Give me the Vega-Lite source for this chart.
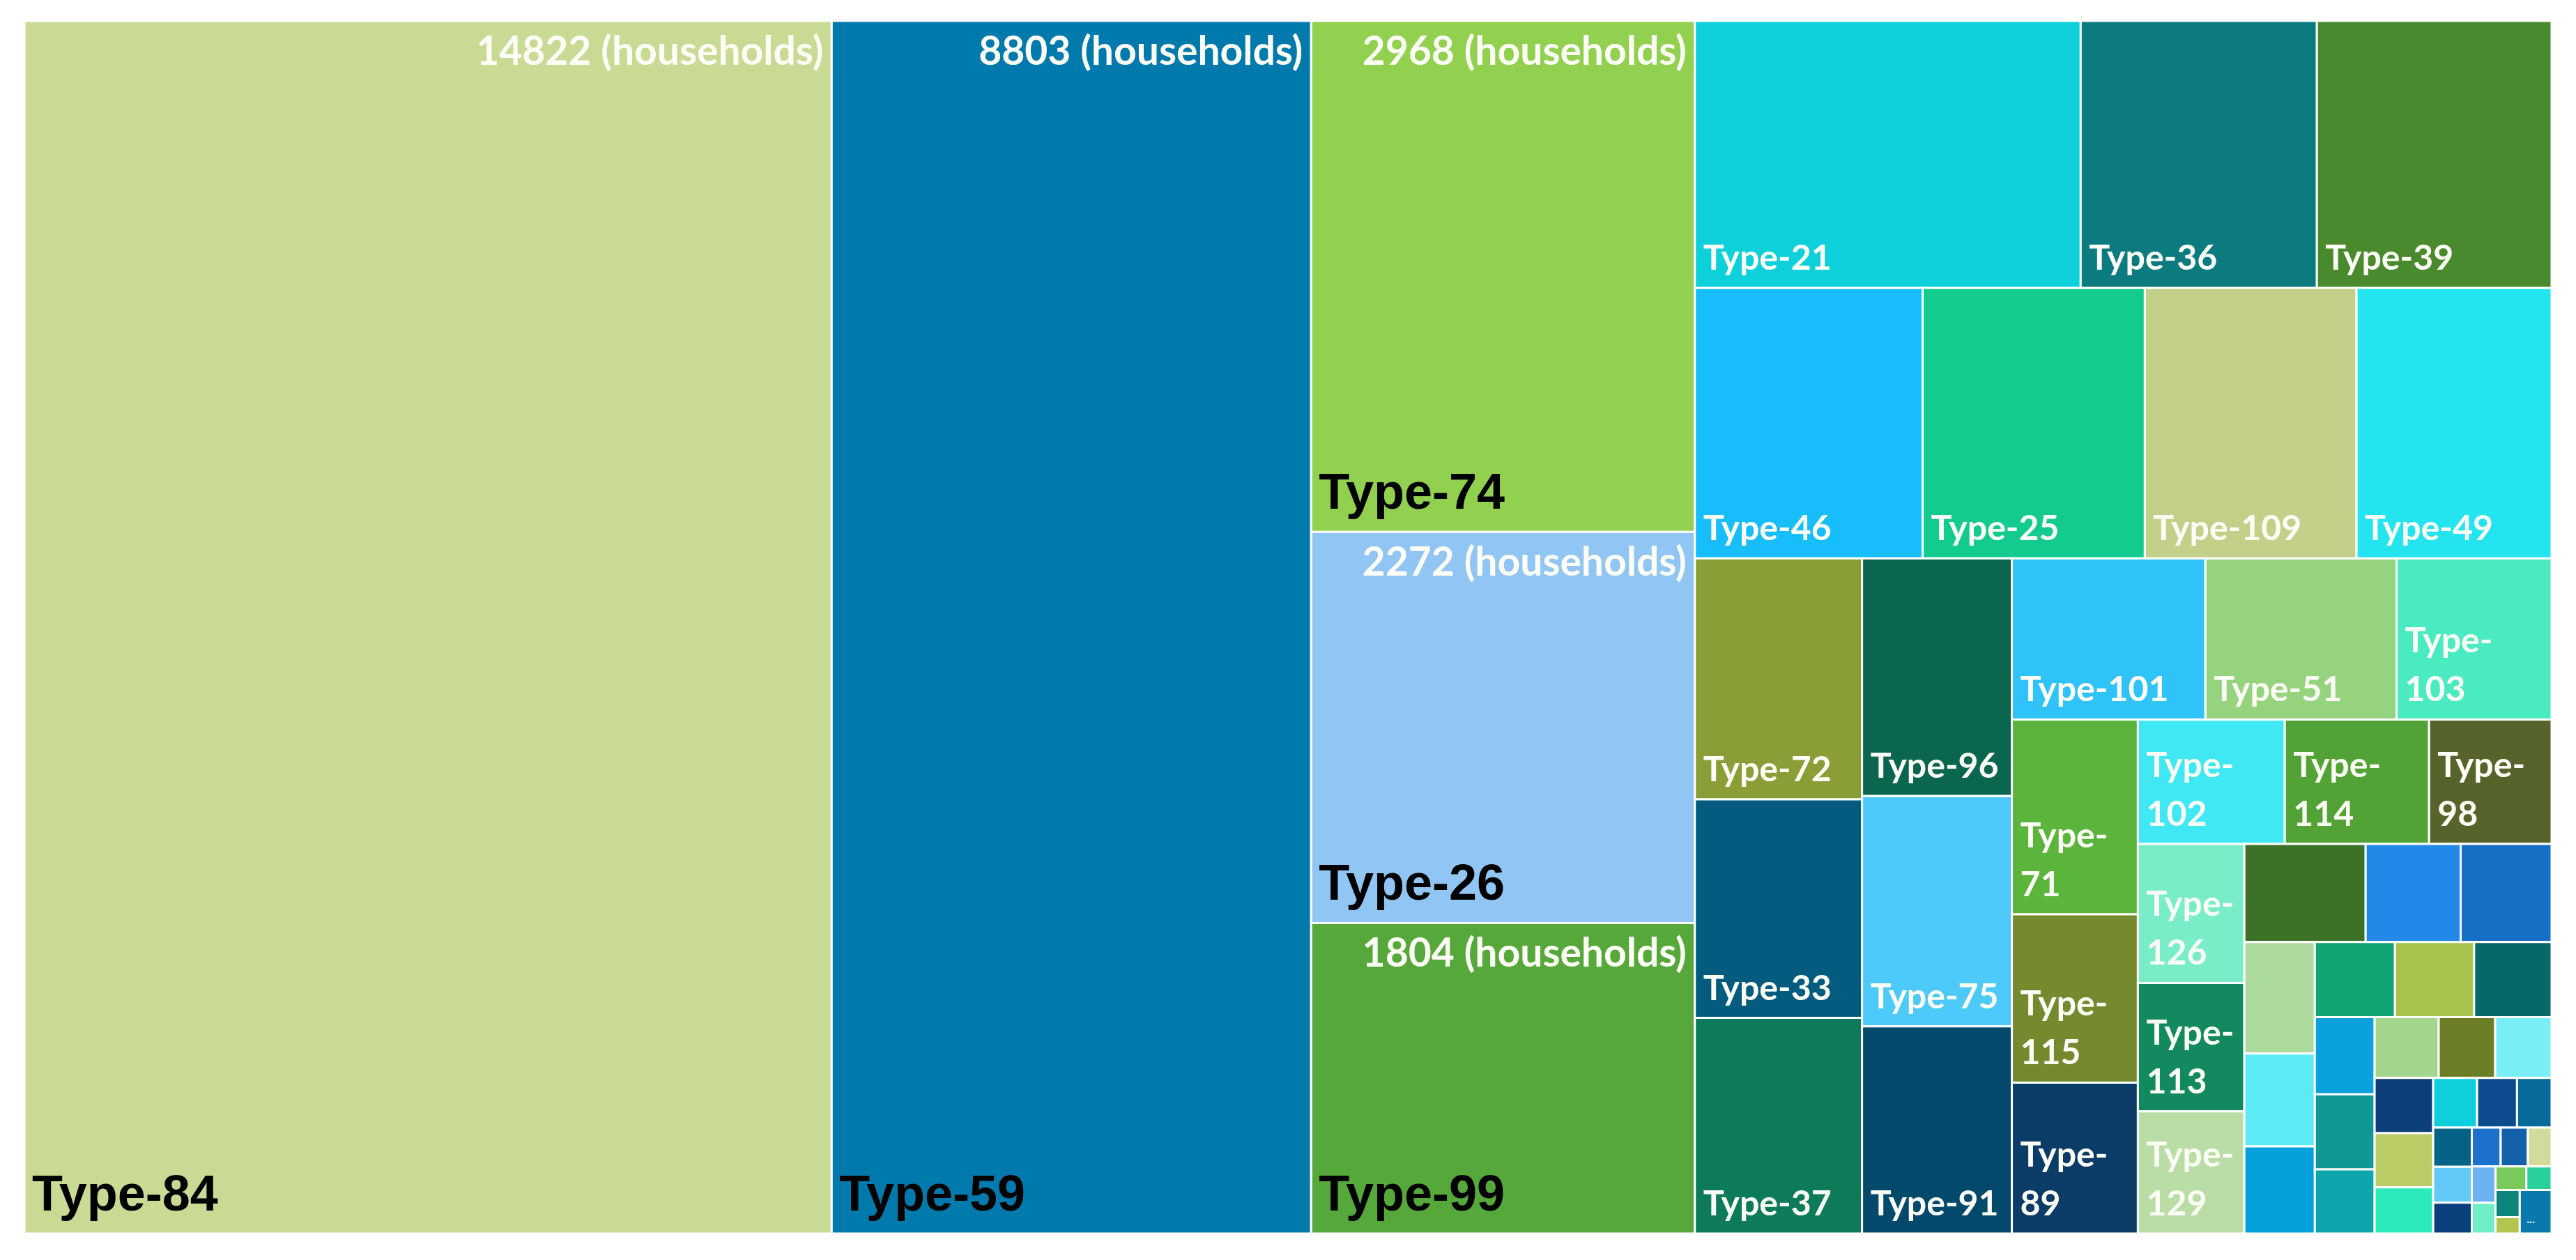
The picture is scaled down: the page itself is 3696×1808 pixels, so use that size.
{
  "$schema": "https://vega.github.io/schema/vega-lite/v6.json",
  "autosize": {"type": "fit", "contains": "padding"},
  "width": 3696,
  "height": 1808,
  "padding": {"left": 33, "top": 28, "right": 33, "bottom": 36},
  "background": "white",
  "config": {"view": {"stroke": null}},
  "data": {"values": [
    {"name": "Type-84", "value": 14822, "strip": 1, "orient": "C", "ord": 1},
    {"name": "Type-59", "value": 8803, "strip": 2, "orient": "C", "ord": 1},
    {"name": "Type-74", "value": 2968, "strip": 3, "orient": "C", "ord": 1},
    {"name": "Type-26", "value": 2272, "strip": 3, "orient": "C", "ord": 2},
    {"name": "Type-99", "value": 1804, "strip": 3, "orient": "C", "ord": 3},
    {"name": "Type-21", "value": 1560, "strip": 4, "orient": "R", "ord": 1},
    {"name": "Type-36", "value": 955, "strip": 4, "orient": "R", "ord": 2},
    {"name": "Type-39", "value": 949, "strip": 4, "orient": "R", "ord": 3},
    {"name": "Type-46", "value": 933, "strip": 5, "orient": "R", "ord": 1},
    {"name": "Type-25", "value": 910, "strip": 5, "orient": "R", "ord": 2},
    {"name": "Type-109", "value": 867, "strip": 5, "orient": "R", "ord": 3},
    {"name": "Type-49", "value": 799, "strip": 5, "orient": "R", "ord": 4},
    {"name": "Type-72", "value": 610, "strip": 6, "orient": "C", "ord": 1},
    {"name": "Type-33", "value": 553, "strip": 6, "orient": "C", "ord": 2},
    {"name": "Type-37", "value": 546, "strip": 6, "orient": "C", "ord": 3},
    {"name": "Type-96", "value": 539, "strip": 7, "orient": "C", "ord": 1},
    {"name": "Type-75", "value": 522, "strip": 7, "orient": "C", "ord": 2},
    {"name": "Type-91", "value": 470, "strip": 7, "orient": "C", "ord": 3},
    {"name": "Type-101", "value": 472, "strip": 8, "orient": "R", "ord": 1},
    {"name": "Type-51", "value": 466, "strip": 8, "orient": "R", "ord": 2},
    {"name": "Type-103", "value": 378, "strip": 8, "orient": "R", "ord": 3},
    {"name": "Type-71", "value": 372, "strip": 9, "orient": "C", "ord": 1},
    {"name": "Type-115", "value": 321, "strip": 9, "orient": "C", "ord": 2},
    {"name": "Type-89", "value": 288, "strip": 9, "orient": "C", "ord": 3},
    {"name": "Type-102", "value": 277, "strip": 10, "orient": "R", "ord": 1},
    {"name": "Type-114", "value": 272, "strip": 10, "orient": "R", "ord": 2},
    {"name": "Type-98", "value": 231, "strip": 10, "orient": "R", "ord": 3},
    {"name": "Type-126", "value": 224, "strip": 11, "orient": "C", "ord": 1},
    {"name": "Type-113", "value": 207, "strip": 11, "orient": "C", "ord": 2},
    {"name": "Type-129", "value": 197, "strip": 11, "orient": "C", "ord": 3},
    {"name": "Other-01", "value": 180, "strip": 12, "orient": "R", "ord": 1},
    {"name": "Other-02", "value": 141, "strip": 12, "orient": "R", "ord": 2},
    {"name": "Other-03", "value": 135, "strip": 12, "orient": "R", "ord": 3},
    {"name": "Other-04", "value": 119, "strip": 13, "orient": "C", "ord": 1},
    {"name": "Other-05", "value": 99, "strip": 13, "orient": "C", "ord": 2},
    {"name": "Other-06", "value": 93, "strip": 13, "orient": "C", "ord": 3},
    {"name": "Other-07", "value": 91, "strip": 14, "orient": "R", "ord": 1},
    {"name": "Other-08", "value": 90, "strip": 14, "orient": "R", "ord": 2},
    {"name": "Other-09", "value": 88, "strip": 14, "orient": "R", "ord": 3},
    {"name": "Other-10", "value": 70, "strip": 15, "orient": "C", "ord": 1},
    {"name": "Other-11", "value": 68, "strip": 15, "orient": "C", "ord": 2},
    {"name": "Other-12", "value": 58, "strip": 15, "orient": "C", "ord": 3},
    {"name": "Other-13", "value": 59, "strip": 16, "orient": "R", "ord": 1},
    {"name": "Other-14", "value": 52, "strip": 16, "orient": "R", "ord": 2},
    {"name": "Other-15", "value": 52, "strip": 16, "orient": "R", "ord": 3},
    {"name": "Other-16", "value": 49, "strip": 17, "orient": "C", "ord": 1},
    {"name": "Other-17", "value": 48, "strip": 17, "orient": "C", "ord": 2},
    {"name": "Other-18", "value": 41, "strip": 17, "orient": "C", "ord": 3},
    {"name": "Other-19", "value": 33, "strip": 18, "orient": "R", "ord": 1},
    {"name": "Other-20", "value": 30, "strip": 18, "orient": "R", "ord": 2},
    {"name": "Other-21", "value": 26, "strip": 18, "orient": "R", "ord": 3},
    {"name": "Other-22", "value": 23, "strip": 19, "orient": "C", "ord": 1},
    {"name": "Other-23", "value": 21, "strip": 19, "orient": "C", "ord": 2},
    {"name": "Other-24", "value": 18, "strip": 19, "orient": "C", "ord": 3},
    {"name": "Other-25", "value": 17, "strip": 20, "orient": "R", "ord": 1},
    {"name": "Other-26", "value": 16, "strip": 20, "orient": "R", "ord": 2},
    {"name": "Other-27", "value": 14, "strip": 20, "orient": "R", "ord": 3},
    {"name": "Other-28", "value": 13, "strip": 21, "orient": "C", "ord": 1},
    {"name": "Other-29", "value": 11, "strip": 21, "orient": "C", "ord": 2},
    {"name": "Other-30", "value": 11, "strip": 22, "orient": "R", "ord": 1},
    {"name": "Other-31", "value": 9, "strip": 22, "orient": "R", "ord": 2},
    {"name": "Other-32", "value": 10, "strip": 23, "orient": "C", "ord": 1},
    {"name": "Other-33", "value": 6, "strip": 23, "orient": "C", "ord": 2},
    {"name": "...", "value": 21, "strip": 24, "orient": "C", "ord": 1}
  ]},
  "transform": [
    {"joinaggregate": [{"op": "sum", "field": "value", "as": "S"}], "groupby": ["strip"]},
    {"joinaggregate": [{"op": "sum", "field": "value", "as": "T"}]},
    {"window": [{"op": "sum", "field": "value", "as": "cumThru"}], "sort": [{"field": "strip", "order": "ascending"}], "frame": [null, 0], "ignorePeers": false},
    {"calculate": "datum.T - datum.cumThru + datum.S", "as": "R"},
    {"calculate": "log(max(datum.R - datum.S, 0.000001) / datum.R)", "as": "lr"},
    {"calculate": "datum.orient === 'C' ? datum.lr * datum.value / datum.S : 0", "as": "lrC"},
    {"calculate": "datum.orient === 'R' ? datum.lr * datum.value / datum.S : 0", "as": "lrR"},
    {"window": [{"op": "sum", "field": "lrC", "as": "cumC"}, {"op": "sum", "field": "lrR", "as": "cumR"}], "sort": [{"field": "strip", "order": "ascending"}], "frame": [null, 0], "ignorePeers": false},
    {"calculate": "exp(datum.cumC - (datum.orient === 'C' ? datum.lr : 0))", "as": "Wr"},
    {"calculate": "exp(datum.cumR - (datum.orient === 'R' ? datum.lr : 0))", "as": "Hr"},
    {"window": [{"op": "sum", "field": "value", "as": "cumIn"}], "groupby": ["strip"], "sort": [{"field": "ord", "order": "ascending"}], "frame": [null, 0]},
    {"calculate": "(datum.cumIn - datum.value) / datum.S", "as": "f0"},
    {"calculate": "datum.cumIn / datum.S", "as": "f1"},
    {"calculate": "datum.S / datum.R", "as": "g"},
    {"calculate": "datum.orient === 'C' ? 1 - datum.Wr : 1 - datum.Wr + datum.Wr * datum.f0", "as": "x0"},
    {"calculate": "datum.orient === 'C' ? 1 - datum.Wr + datum.Wr * datum.g : 1 - datum.Wr + datum.Wr * datum.f1", "as": "x1"},
    {"calculate": "datum.orient === 'C' ? 1 - datum.Hr + datum.Hr * datum.f0 : 1 - datum.Hr", "as": "y0"},
    {"calculate": "datum.orient === 'C' ? 1 - datum.Hr + datum.Hr * datum.f1 : 1 - datum.Hr + datum.Hr * datum.g", "as": "y1"},
    {"calculate": "(datum.x1 - datum.x0) * 3630 < length(datum.name) * 26 + 24", "as": "wrap"},
    {"calculate": "datum.wrap ? 'Type-' : ''", "as": "lineA"},
    {"calculate": "datum.wrap ? replace(datum.name, 'Type-', '') : datum.name", "as": "lineB"},
    {"calculate": "datum.value + ' (households)'", "as": "vlabel"}
  ],
  "layer": [
    {
      "mark": {"type": "rect", "stroke": "white", "strokeWidth": 3},
      "encoding": {
        "x": {"field": "x0", "type": "quantitative", "scale": {"domain": [0, 1], "nice": false, "zero": false}, "axis": null},
        "x2": {"field": "x1"},
        "y": {"field": "y0", "type": "quantitative", "scale": {"domain": [0, 1], "nice": false, "zero": false, "reverse": true}, "axis": null},
        "y2": {"field": "y1"},
        "color": {
          "field": "name", "type": "nominal", "legend": null,
          "scale": {
            "domain": ["Type-84","Type-59","Type-74","Type-26","Type-99","Type-21","Type-36","Type-39","Type-46","Type-25","Type-109","Type-49","Type-72","Type-33","Type-37","Type-96","Type-75","Type-91","Type-101","Type-51","Type-103","Type-71","Type-115","Type-89","Type-102","Type-114","Type-98","Type-126","Type-113","Type-129","Other-01","Other-02","Other-03","Other-04","Other-05","Other-06","Other-07","Other-08","Other-09","Other-10","Other-11","Other-12","Other-13","Other-14","Other-15","Other-16","Other-17","Other-18","Other-19","Other-20","Other-21","Other-22","Other-23","Other-24","Other-25","Other-26","Other-27","Other-28","Other-29","Other-30","Other-31","Other-32","Other-33","..."],
            "range": ["#C9DA94","#007AAC","#92D050","#91C5F3","#57A83B","#0DD0DA","#0B7B80","#4A8A2E","#18BEFC","#13CB8F","#C3D08A","#24E4F0","#899E37","#035B80","#0D7A5A","#0B6650","#4DC9FA","#03496B","#30C3FA","#96D37F","#4AEBC1","#5BB43C","#758A2F","#0B3B67","#3FE8F3","#52A235","#56632A","#78EDC8","#13895F","#BADDA5","#3B7228","#2389E8","#156FC4","#ACDA9D","#5CEBF4","#05A0DB","#10A475","#A7C34B","#076868","#0AA1DC","#109896","#0BA5AB","#A3D68C","#6C7E25","#7AEEF6","#0C3F79","#BACC65","#2CEAB9","#0DD0DC","#0E4A8E","#066B9A","#076385","#63C9F6","#0B3F7B","#1D71CD","#1361A9","#D3DB9B","#6CB2F0","#6FEDC9","#7AC95B","#29D09B","#0D857A","#B3C54D","#0978AC"]
          }
        }
      }
    },
    {
      "transform": [{"filter": "datum.value >= 1800"}],
      "mark": {"type": "text", "align": "left", "baseline": "bottom", "dx": 11, "dy": -18, "font": "Liberation Sans", "fontWeight": "bold", "fontSize": 72, "color": "#000000"},
      "encoding": {
        "x": {"field": "x0", "type": "quantitative", "scale": {"domain": [0, 1], "nice": false, "zero": false}, "axis": null},
        "y": {"field": "y1", "type": "quantitative", "scale": {"domain": [0, 1], "nice": false, "zero": false, "reverse": true}, "axis": null},
        "text": {"field": "name"}
      }
    },
    {
      "transform": [{"filter": "datum.value >= 1800"}],
      "mark": {"type": "text", "align": "right", "baseline": "top", "dx": -12, "dy": 18, "font": "Lato", "fontWeight": "bold", "fontSize": 57, "color": "#FDFEF6"},
      "encoding": {
        "x": {"field": "x1", "type": "quantitative", "scale": {"domain": [0, 1], "nice": false, "zero": false}, "axis": null},
        "y": {"field": "y0", "type": "quantitative", "scale": {"domain": [0, 1], "nice": false, "zero": false, "reverse": true}, "axis": null},
        "text": {"field": "vlabel"}
      }
    },
    {
      "transform": [{"filter": "datum.value >= 190 && datum.value < 1800"}],
      "mark": {"type": "text", "align": "left", "baseline": "bottom", "dx": 12, "dy": -16, "font": "Lato", "fontWeight": "bold", "fontSize": 50, "color": "#FDFEF6"},
      "encoding": {
        "x": {"field": "x0", "type": "quantitative", "scale": {"domain": [0, 1], "nice": false, "zero": false}, "axis": null},
        "y": {"field": "y1", "type": "quantitative", "scale": {"domain": [0, 1], "nice": false, "zero": false, "reverse": true}, "axis": null},
        "text": {"field": "lineB"}
      }
    },
    {
      "transform": [{"filter": "datum.value >= 190 && datum.value < 1800 && datum.wrap"}],
      "mark": {"type": "text", "align": "left", "baseline": "bottom", "dx": 12, "dy": -86, "font": "Lato", "fontWeight": "bold", "fontSize": 50, "color": "#FDFEF6"},
      "encoding": {
        "x": {"field": "x0", "type": "quantitative", "scale": {"domain": [0, 1], "nice": false, "zero": false}, "axis": null},
        "y": {"field": "y1", "type": "quantitative", "scale": {"domain": [0, 1], "nice": false, "zero": false, "reverse": true}, "axis": null},
        "text": {"field": "lineA"}
      }
    },
    {
      "transform": [{"filter": "datum.name === '...'"}],
      "mark": {"type": "text", "align": "left", "baseline": "bottom", "dx": 10, "dy": -12, "font": "Lato", "fontWeight": "bold", "fontSize": 16, "color": "#FFFFFF"},
      "encoding": {
        "x": {"field": "x0", "type": "quantitative", "scale": {"domain": [0, 1], "nice": false, "zero": false}, "axis": null},
        "y": {"field": "y1", "type": "quantitative", "scale": {"domain": [0, 1], "nice": false, "zero": false, "reverse": true}, "axis": null},
        "text": {"field": "name"}
      }
    }
  ]
}
